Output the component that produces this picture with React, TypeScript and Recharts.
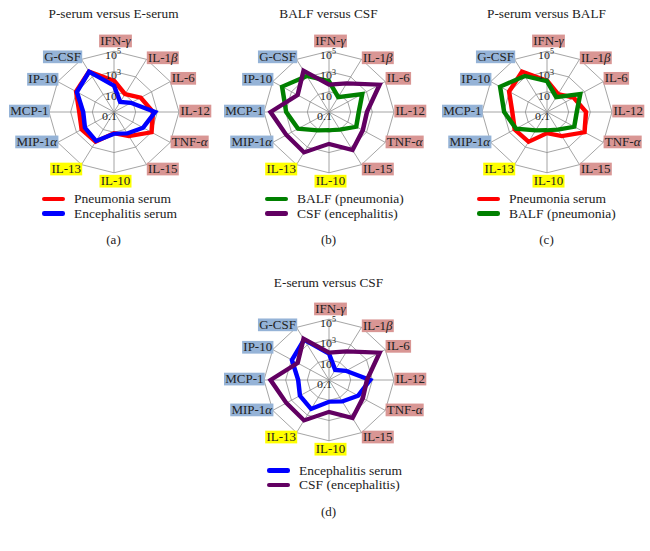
import React from 'react';
import { RadarChart, Radar, PolarGrid, PolarAngleAxis, PolarRadiusAxis } from 'recharts';

// ---- data ----
const cytokines = ['IFN-γ', 'IL-1β', 'IL-6', 'IL-12', 'TNF-α', 'IL-15', 'IL-10', 'IL-13', 'MIP-1α', 'MCP-1', 'IP-10', 'G-CSF'];
const cytokineGroups = ['th1', 'th1', 'th1', 'th1', 'th1', 'th1', 'th2', 'th2', 'chemo', 'chemo', 'chemo', 'chemo'];
const pneumoniaSerum = [125, 11, 70, 400, 1000, 56, 12.5, 250, 280, 160, 1100, 4000];
const encephalitisSerum = [40, 1.4, 6.3, 630, 125, 28, 14, 200, 125, 70, 900, 4000];
const balfPneumonia = [110, 5, 350, 56, 80, 10, 6.3, 12.5, 200, 900, 10000, 1250];
const csfEncephalitis = [50, 180, 25000, 320, 400, 2200, 140, 4000, 3500, 25000, 220, 5000];
const panelTitles = ['P-serum versus E-serum', 'BALF versus CSF', 'P-serum versus BALF', 'E-serum versus CSF'];
const panelLetters = ['(a)', '(b)', '(c)', '(d)'];
const seriesLabels = {
  pSerum: 'Pneumonia serum',
  eSerum: 'Encephalitis serum',
  balf: 'BALF (pneumonia)',
  csf: 'CSF (encephalitis)',
};
const LOG_MIN = 0.1; // centre of the radar
const LOG_MAX = 1e5; // outer ring

// ---- styles ----
const groupColors: Record<string, string> = { th1: '#D99694', th2: '#FFFF00', chemo: '#95B3D7' };
const seriesColors: Record<string, string> = { pSerum: '#FF0000', eSerum: '#0000FF', balf: '#008000', csf: '#620062' };
const FONT = "'Liberation Serif', 'Times New Roman', serif";
const R = 65;
const SQUASH = 0.935;

const toDecades = (v: number) => Math.log10(v) - Math.log10(LOG_MIN);
const seriesValues: Record<string, number[]> = {
  pSerum: pneumoniaSerum,
  eSerum: encephalitisSerum,
  balf: balfPneumonia,
  csf: csfEncephalitis,
};
const data = cytokines.map((name, i) => {
  const row: any = { name };
  Object.keys(seriesValues).forEach((k) => (row[k] = toDecades(seriesValues[k][i])));
  return row;
});
const maxDecades = toDecades(LOG_MAX);

let ctx: CanvasRenderingContext2D | null = null;
function measure(text: string, font: string) {
  if (!ctx) ctx = document.createElement('canvas').getContext('2d');
  if (!ctx) return text.length * 6;
  ctx.font = font;
  return ctx.measureText(text).width;
}

const labelDy = [-11, -1.7, -3.5, -1, -0.5, 4.7, 9, 4.7, -0.5, -1, -2.5, -2.7];
const LABEL_SIZE = 13;

function makeAngleTick(cx: number, cy: number) {
  return (props: any) => {
    const name: string = props.payload.value;
    const i = cytokines.indexOf(name);
    const a = (i * 30 * Math.PI) / 180;
    const s = Math.sin(a);
    const c = Math.cos(a);
    const vx = cx + R * s;
    const vy = cy - R * c;
    const last = name.slice(-1);
    const greek = 'αβγ'.includes(last);
    const main = greek ? name.slice(0, -1) : name;
    const w =
      measure(main, `${LABEL_SIZE}px ${FONT}`) + (greek ? measure(last, `italic ${LABEL_SIZE}px ${FONT}`) : 0);
    let x0: number;
    if (Math.abs(s) < 0.01) x0 = vx + 1.5 - w / 2;
    else if (s > 0) x0 = vx + 1.5;
    else x0 = vx - 0.5 - w;
    const yc = vy + labelDy[i];
    return (
      <g>
        <rect x={x0 - 1.2} y={yc - 6.8} width={w + 2.4} height={13.6} fill={groupColors[cytokineGroups[i]]} />
        <text
          x={x0}
          y={yc + 4.4}
          fontSize={LABEL_SIZE}
          style={{ fontFamily: FONT }}
          fill="#222"
          textAnchor="start"
        >
          {main}
          {greek ? <tspan fontStyle="italic">{last}</tspan> : null}
        </text>
      </g>
    );
  };
}

const RadiusTick = (props: any) => {
  const { x, y, payload } = props;
  const exp = Math.round(payload.value + Math.log10(LOG_MIN));
  let base = '10';
  let sup = '';
  if (exp < 0) base = String(Math.pow(10, exp));
  else if (exp === 0) base = '1';
  else if (exp > 1) sup = String(exp);
  const bw = measure(base, `12px ${FONT}`);
  const xEnd = x + 3;
  return (
    <text x={xEnd - bw} y={y + 8.5} fontSize={12} style={{ fontFamily: FONT }} fill="#222" textAnchor="start">
      {base}
      {sup ? (
        <tspan fontSize={8} dy={-5}>
          {sup}
        </tspan>
      ) : null}
    </text>
  );
};

const panels = [
  { cx: 113.5, cy: 111.5, titleY: 14, legendX: 42, legendY: 199, letterY: 240, keys: ['pSerum', 'eSerum'] },
  { cx: 328.5, cy: 111.5, titleY: 14, legendX: 265, legendY: 199, letterY: 240, keys: ['balf', 'csf'] },
  { cx: 546.5, cy: 111.5, titleY: 14, legendX: 477, legendY: 199, letterY: 240, keys: ['pSerum', 'balf'] },
  { cx: 328.5, cy: 379.5, titleY: 283, legendX: 267, legendY: 470.5, letterY: 512, keys: ['eSerum', 'csf'] },
];

const CW = 216;
const CH = 205;
const LCX = 108;
const LCY = 100;

export default function App() {
  return (
    <div
      style={{
        position: 'absolute',
        left: 0,
        top: 0,
        width: 650,
        height: 551,
        background: '#fff',
        fontFamily: FONT,
        color: '#222',
        overflow: 'hidden',
      }}
    >
      {panels.map((p, pi) => (
        <React.Fragment key={pi}>
          <div
            style={{
              position: 'absolute',
              left: p.cx - 100,
              width: 200,
              top: p.titleY - 8,
              lineHeight: '16px',
              fontSize: 13.3,
              textAlign: 'center',
              whiteSpace: 'nowrap',
            }}
          >
            {panelTitles[pi]}
          </div>
          <div
            style={{
              position: 'absolute',
              left: p.cx - LCX,
              top: p.cy - LCY,
              width: CW,
              height: CH,
              transform: `scaleY(${SQUASH})`,
              transformOrigin: `${LCX}px ${LCY}px`,
            }}
          >
            <RadarChart
              width={CW}
              height={CH}
              cx={LCX}
              cy={LCY}
              outerRadius={R}
              innerRadius={0}
              data={data}
              margin={{ top: 0, right: 0, bottom: 0, left: 0 }}
              style={{ overflow: 'visible' }}
            >
              <PolarGrid gridType="polygon" stroke="#8a8a8a" strokeWidth={0.8} />
              <PolarAngleAxis dataKey="name" tick={makeAngleTick(LCX, LCY)} tickLine={false} axisLine={false} />
              {p.keys.map((k) => (
                <Radar
                  key={k}
                  dataKey={k}
                  name={seriesLabels[k as keyof typeof seriesLabels]}
                  stroke={seriesColors[k]}
                  strokeWidth={4.5}
                  fill="none"
                  fillOpacity={0}
                  dot={false}
                  isAnimationActive={false}
                />
              ))}
              <PolarRadiusAxis
                angle={90}
                type="number"
                domain={[0, maxDecades]}
                tickCount={4}
                axisLine={false}
                tickLine={false}
                tick={RadiusTick}
              />
            </RadarChart>
          </div>
          {p.keys.map((k, ki) => (
            <div
              key={k}
              style={{
                position: 'absolute',
                left: p.legendX,
                top: p.legendY + ki * 14.5 - 7,
                height: 14,
                lineHeight: '14px',
                fontSize: 13.5,
                whiteSpace: 'nowrap',
                display: 'flex',
                alignItems: 'center',
              }}
            >
              <span
                style={{
                  display: 'inline-block',
                  width: 23,
                  height: 4.5,
                  borderRadius: 2.25,
                  background: seriesColors[k],
                  marginRight: 9,
                }}
              />
              <span>{seriesLabels[k as keyof typeof seriesLabels]}</span>
            </div>
          ))}
          <div
            style={{
              position: 'absolute',
              left: p.cx - 20,
              width: 40,
              top: p.letterY - 8,
              lineHeight: '16px',
              fontSize: 13,
              textAlign: 'center',
            }}
          >
            {panelLetters[pi]}
          </div>
        </React.Fragment>
      ))}
    </div>
  );
}
